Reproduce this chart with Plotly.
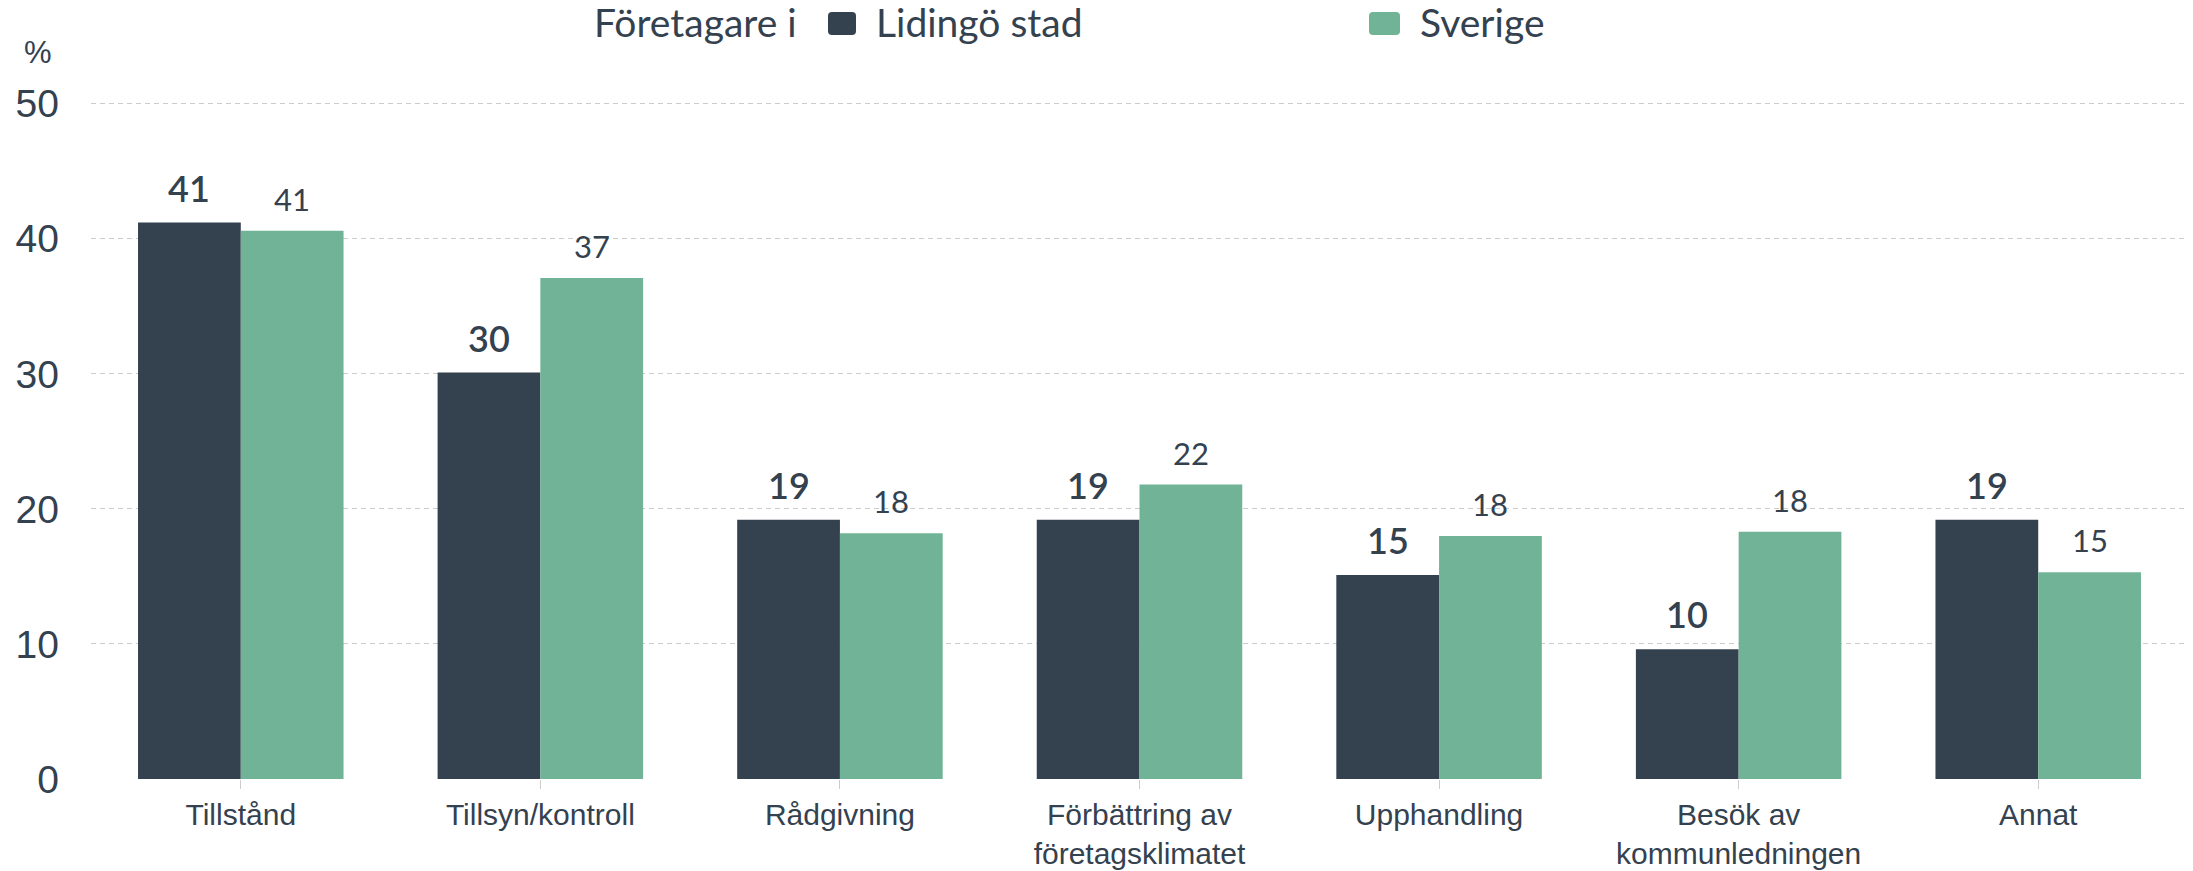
import plotly.graph_objects as go

categories = ["Tillstånd", "Tillsyn/kontroll", "Rådgivning",
              "Förbättring av<br>företagsklimatet", "Upphandling",
              "Besök av<br>kommunledningen", "Annat"]
lidingo = [41.2, 30.1, 19.2, 19.2, 15.1, 9.6, 19.2]
sverige = [40.6, 37.1, 18.2, 21.8, 18.0, 18.3, 15.3]
series_names = ["Lidingö stad", "Sverige"]
legend_title = "Företagare i"
y_ticks = [0, 10, 20, 30, 40, 50]

DARK = "#34414f"
GREEN = "#70b396"
TEXT = "#34414f"
GRID = "#cccccc"

W, H = 2193, 871
L, R, T, B = 91, 5, 97, 92
PW, PH = W - L - R, H - T - B


def px_x(px):
    return (px - L) / PW


def px_y(py):
    return (H - B - py) / PH


fig = go.Figure()
fig.add_trace(go.Bar(name=series_names[0], x=list(range(len(categories))), y=lidingo,
                     marker=dict(color=DARK, line=dict(width=0))))
fig.add_trace(go.Bar(name=series_names[1], x=list(range(len(categories))), y=sverige,
                     marker=dict(color=GREEN, line=dict(width=0))))

bargap = 0.314
half = (1 - bargap) / 4
annotations = []
for i, v in enumerate(lidingo):
    annotations.append(dict(x=i - half, y=v, xref="x", yref="y", text=f"{round(v)}",
                            showarrow=False, yanchor="bottom", yshift=11,
                            font=dict(family="Lato", size=36, color=TEXT, weight=600)))
for i, v in enumerate(sverige):
    annotations.append(dict(x=i + half, y=v, xref="x", yref="y", text=f"{round(v)}",
                            showarrow=False, yanchor="bottom", yshift=11,
                            font=dict(family="Lato", size=31, color=TEXT)))

# "%" unit label
annotations.append(dict(x=px_x(38), y=px_y(52), xref="paper", yref="paper", text="%",
                        showarrow=False, xanchor="center", yanchor="middle",
                        font=dict(family="Liberation Sans", size=31, color=TEXT)))

# manual legend
LEG_Y = 22
LEG_FONT = dict(family="Lato", size=39, color=TEXT)
annotations.append(dict(x=px_x(592), y=px_y(LEG_Y), xref="paper", yref="paper", text=legend_title,
                        showarrow=False, xanchor="left", yanchor="middle", font=LEG_FONT))
annotations.append(dict(x=px_x(874), y=px_y(LEG_Y), xref="paper", yref="paper", text=series_names[0],
                        showarrow=False, xanchor="left", yanchor="middle", font=LEG_FONT))
annotations.append(dict(x=px_x(1418), y=px_y(LEG_Y), xref="paper", yref="paper", text=series_names[1],
                        showarrow=False, xanchor="left", yanchor="middle", font=LEG_FONT))


def rrect(x0, y0, x1, y1, r):
    ax0, ax1 = px_x(x0), px_x(x1)
    ay0, ay1 = px_y(y0), px_y(y1)
    rx, ry = r / PW, r / PH
    return (f"M{ax0+rx},{ay0} L{ax1-rx},{ay0} Q{ax1},{ay0} {ax1},{ay0-ry} "
            f"L{ax1},{ay1+ry} Q{ax1},{ay1} {ax1-rx},{ay1} L{ax0+rx},{ay1} "
            f"Q{ax0},{ay1} {ax0},{ay1+ry} L{ax0},{ay0-ry} Q{ax0},{ay0} {ax0+rx},{ay0} Z")


shapes = [
    dict(type="path", xref="paper", yref="paper", path=rrect(828, 12, 856, 35, 4),
         fillcolor=DARK, line=dict(width=0)),
    dict(type="path", xref="paper", yref="paper", path=rrect(1369, 12, 1400, 35, 4),
         fillcolor=GREEN, line=dict(width=0)),
]

fig.update_layout(
    width=W, height=H,
    margin=dict(l=L, r=R, t=T, b=B, pad=0, autoexpand=False),
    paper_bgcolor="white", plot_bgcolor="white",
    barmode="group", bargap=bargap, bargroupgap=0,
    showlegend=False,
    annotations=annotations,
    shapes=shapes,
    xaxis=dict(
        tickmode="array", tickvals=list(range(len(categories))), ticktext=categories,
        range=[-0.5, len(categories) - 0.5], automargin=False,
        tickfont=dict(family="Liberation Sans", size=30, color=TEXT),
        showgrid=False, zeroline=False, showline=False,
        ticks="outside", tickson="boundaries", ticklen=9, tickcolor=GRID, tickwidth=1,
        ticklabelstandoff=0,
    ),
    yaxis=dict(
        range=[0, 50.5], tickvals=y_ticks, automargin=False,
        tickfont=dict(family="Liberation Sans", size=39, color=TEXT),
        showgrid=True, gridcolor=GRID, gridwidth=1, griddash="5px,4px",
        zeroline=False, showline=False, ticks="",
        ticklabelstandoff=31,
    ),
    hovermode=False,
)

fig.write_html("out.html", config={"displayModeBar": False},
               post_script="document.body.style.margin='0';")
